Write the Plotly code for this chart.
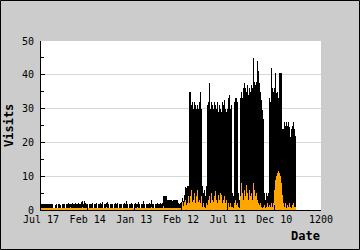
import plotly.graph_objects as go

tick_labels = ["Jul 17", "Feb 14", "Jan 13", "Feb 12", "Jul 11", "Dec 10", "1200"]
tick_pos = [0, 46.67, 93.33, 140, 186.67, 233.33, 280]

visits = [
    1.8, 1.8, 1.8, 1.8, 1.8, 1.8, 1.8, 1.8, 1.8, 1.8,
    1.8, 1.8, 0.6, 0.6, 1.6, 1.9, 0.6, 1.7, 1.8, 1.6,
    0.6, 1.8, 1.9, 1.7, 0.6, 1.8, 1.9, 2.0, 1.8, 1.9,
    1.7, 2.0, 1.8, 1.9, 2.2, 1.8, 1.9, 2.0, 1.8, 1.7,
    2.4, 2.6, 1.9, 2.8, 2.2, 1.8, 1.9, 0.6, 1.7, 1.8,
    1.9, 2.0, 0.6, 1.8, 1.7, 2.2, 0.6, 1.8, 1.9, 2.1,
    1.8, 2.3, 0.6, 1.9, 1.8, 2.0, 2.5, 1.8, 0.6, 1.9,
    1.8, 1.7, 0.6, 1.9, 2.0, 1.8, 2.2, 0.6, 1.8, 1.9,
    1.8, 0.6, 1.7, 2.0, 1.9, 2.6, 1.8, 0.6, 1.9, 1.8,
    2.0, 1.8, 0.6, 1.9, 2.1, 1.7, 1.8, 2.5, 1.9, 0.6,
    1.9, 1.8, 2.8, 1.8, 0.6, 1.9, 1.7, 1.8, 2.0, 1.8,
    2.9, 1.9, 1.8, 0.6, 1.8, 1.9, 2.0, 1.8, 1.9, 2.0,
    1.9, 2.0, 4.2, 4.2, 4.2, 4.2, 2.9, 3.0, 3.0, 2.9,
    3.0, 2.8, 3.0, 2.9, 3.1, 2.9, 3.0, 2.0, 1.9, 2.2,
    2.5, 3.5, 2.8, 4.5, 6.8, 6.5, 7.0,
    7,
    35, 35, 31, 32, 30, 32, 31, 30, 31, 30, 32, 35, 30,
    7, 5, 6, 4, 7,
    31, 32, 37.5, 30, 32, 31, 30, 32, 31, 30, 32, 29, 31, 30, 29, 32, 31, 32.5, 30, 29, 30, 33, 34, 30, 31,
    5, 4,
    32, 33, 33, 32,
    5, 3,
    33, 35, 33, 36, 37.5, 36, 35, 37, 34, 36, 35, 37, 36, 45, 38, 37, 38, 44, 41, 37.5, 35, 32.5, 29.5, 27,
    5, 3, 5, 4, 5,
    33, 32, 42, 36, 35, 36, 40.5, 34.5, 35, 33, 40.5, 40.5, 40.5,
    24, 24, 26, 25, 26, 25, 26, 24.5, 21.5, 24, 25, 26, 24, 22,
]

unique = [
    0.7, 0.7, 0.7, 0.7, 0.7, 0.7, 0.7, 0.7, 0.7, 0.7,
    0.7, 0.7, 0.7, 0.7, 0.7, 0.7, 0.7, 0.7, 0.7, 0.7,
    0.7, 0.7, 0.7, 0.7, 0.7, 0.7, 0.7, 0.7, 0.7, 1.0,
    0.7, 0.7, 0.7, 0.7, 0.7, 0.7, 0.7, 0.7, 0.7, 0.7,
    0.7, 1.0, 0.7, 0.7, 0.7, 0.7, 0.7, 0.7, 0.7, 0.7,
    0.7, 0.7, 0.7, 0.7, 0.7, 0.7, 0.7, 0.7, 0.7, 0.7,
    0.7, 0.7, 0.7, 0.7, 0.7, 1.0, 0.7, 0.7, 0.7, 0.7,
    0.7, 0.7, 0.7, 0.7, 0.7, 0.7, 0.7, 0.7, 0.7, 0.7,
    0.7, 0.7, 0.7, 0.7, 0.7, 0.7, 0.7, 0.7, 0.7, 0.7,
    0.7, 0.7, 0.7, 0.7, 0.7, 0.7, 1.0, 0.7, 0.7, 0.7,
    0.7, 0.7, 0.7, 0.7, 0.7, 0.7, 0.7, 0.7, 0.7, 0.7,
    1.0, 0.7, 0.7, 0.7, 0.7, 0.7, 0.7, 0.7, 0.7, 0.7,
    0.7, 0.7, 1.3, 0.7, 0.7, 0.7, 0.7, 0.7, 0.7, 0.7,
    0.7, 0.7, 0.7, 0.7, 0.7, 0.7, 0.7, 0.7, 0.7, 0.7,
    1.5, 2.4, 1.2, 2.4, 3.0, 1.5, 2.0,
    4.0,
    2, 4, 6, 2.4, 3, 5, 2, 4, 6, 2.5, 3, 2, 4,
    1, 2, 1, 0.7, 2,
    1.5, 3, 4, 2, 5, 3, 2.4, 4, 5.6, 3, 2, 4.5, 3, 5, 4.5, 2, 3, 4, 2, 3, 1.5, 2, 1, 2, 1,
    1, 0.7,
    2, 3, 1.5, 2,
    1, 0.7,
    4, 8, 5, 3, 6, 4, 7.4, 5, 3, 6, 4, 5, 3, 8, 6, 4, 5, 3, 2, 1.5, 2, 1, 0.7, 1,
    1.5, 0.7, 1, 2, 1,
    1.5, 1, 2, 1, 2, 6, 9, 10, 11, 11.5, 11, 10, 8,
    4.4, 2, 1, 2, 0.7, 1.5, 1, 2, 1, 0.7, 1.5, 2, 1, 1,
]

xs = [i + 0.5 for i in range(len(visits))]

W, H = 360, 250
ML, MR, MT, MB = 41, 39, 41, 40
PW, PH = W - ML - MR, H - MT - MB


def px(x):
    return (x - ML) / PW


def py(y):
    return (H - MB - y) / PH


FONT = "DejaVu Sans Mono"

fig = go.Figure()
fig.add_trace(go.Bar(x=xs, y=visits, width=1, marker=dict(color="#000000", line=dict(width=0)),
                     name="Visits", hoverinfo="skip"))
fig.add_trace(go.Bar(x=xs[:len(unique)], y=unique, width=1,
                     marker=dict(color="#ffa500", line=dict(width=0)),
                     name="Unique", hoverinfo="skip"))

fig.update_layout(
    width=W, height=H,
    margin=dict(l=ML, r=MR, t=MT, b=MB, pad=0),
    paper_bgcolor="#cccccc",
    plot_bgcolor="#ffffff",
    barmode="overlay",
    bargap=0,
    showlegend=False,
    font=dict(family=FONT, size=10, color="#000000"),
    xaxis=dict(
        range=[0, 280], tickmode="array", tickvals=tick_pos, ticktext=tick_labels,
        ticks="inside", ticklen=5, tickcolor="#000000", tickwidth=1,
        showline=True, linecolor="#000000", linewidth=1,
        showgrid=False, zeroline=False, fixedrange=True,
        tickfont=dict(family=FONT, size=10, color="#000000"),
    ),
    yaxis=dict(
        range=[0, 50], tickmode="array", tickvals=[0, 10, 20, 30, 40, 50],
        ticks="inside", ticklen=4, tickcolor="#000000", tickwidth=1,
        minor=dict(tickvals=[5, 15, 25, 35, 45], ticks="inside", ticklen=3, tickcolor="#000000", showgrid=False),
        showline=True, linecolor="#000000", linewidth=1,
        showgrid=True, gridcolor="#d8d8d8", gridwidth=1,
        zeroline=False, fixedrange=True, ticklabelstandoff=4,
        tickfont=dict(family=FONT, size=10, color="#000000"),
    ),
    annotations=[
        dict(text="<b>Visits</b>", x=px(8.5), y=py(125.5), xref="paper", yref="paper",
             showarrow=False, textangle=-90, xanchor="center", yanchor="middle",
             font=dict(family=FONT, size=12, color="#000000")),
        dict(text="<b>Date</b>", x=px(305.5), y=py(235.5), xref="paper", yref="paper",
             showarrow=False, xanchor="center", yanchor="middle",
             font=dict(family=FONT, size=12, color="#000000")),
    ],
    shapes=[
        dict(type="rect", xref="paper", yref="paper",
             x0=px(0.5), x1=px(359.5), y0=py(249.5), y1=py(0.5),
             line=dict(color="#000000", width=1), fillcolor="rgba(0,0,0,0)", layer="above"),
    ],
)

fig.write_html("out.html", config={"displayModeBar": False})
